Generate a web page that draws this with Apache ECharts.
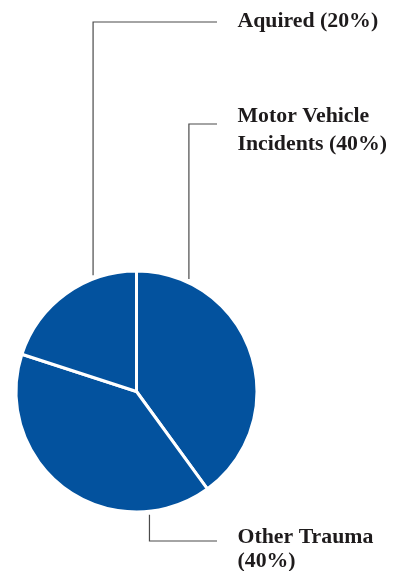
<!DOCTYPE html>
<html>
<head>
<meta charset="utf-8">
<script src="https://cdn.jsdelivr.net/npm/echarts@6/dist/echarts.min.js"></script>
<style>
html,body{margin:0;padding:0;background:#fff;}
#chart{width:397px;height:571px;}
</style>
</head>
<body>
<div id="chart"></div>
<script>
// Data
var categories = ['Motor Vehicle Incidents', 'Other Trauma', 'Aquired'];
var values = [40, 40, 20];
// Displayed label names (with line breaks as in the reference)
var labelNames = ['Motor Vehicle\nIncidents', 'Other Trauma', 'Aquired'];
var labelSeparators = [' ', '\n', ' '];

// Layout (styling, not data)
var CX = 136.5, CY = 391.5, R = 120.5;
var LABEL_X = 237.5;
var leaderAngles = [25, 174, 339.5];      // where each leader leaves the pie (deg clockwise from top)
var leaderRowY = [124, 541, 22];          // height of each horizontal leader segment
var labelCenterY = [130, 549.5, 21.5];    // vertical centre of each label block
var lineHeights = [28, 24, 24];

var chart = echarts.init(document.getElementById('chart'), null, {renderer: 'canvas'});

var total = values.reduce(function (a, b) { return a + b; }, 0);
var data = categories.map(function (c, i) {
  return {
    name: c,
    value: values[i],
    label: { lineHeight: lineHeights[i] }
  };
});

chart.setOption({
  animation: false,
  backgroundColor: '#ffffff',
  series: [{
    type: 'pie',
    center: [CX, CY],
    radius: R,
    startAngle: 90,
    clockwise: true,
    avoidLabelOverlap: false,
    itemStyle: { color: '#03529e', borderColor: '#ffffff', borderWidth: 3 },
    emphasis: { disabled: true },
    label: {
      show: true,
      position: 'outside',
      fontFamily: 'Liberation Serif',
      fontWeight: 'bold',
      fontSize: 21.8,
      color: '#1e1b1c',
      formatter: function (p) {
        var i = p.dataIndex;
        return labelNames[i] + labelSeparators[i] + '(' + Math.round(p.value / total * 100) + '%)';
      }
    },
    labelLine: {
      show: true,
      lineStyle: { color: '#4a4a4a', width: 1.2 }
    },
    labelLayout: function (params) {
      var i = params.dataIndex;
      var a = leaderAngles[i] * Math.PI / 180;
      var r = R + 3.5;
      var sx = CX + r * Math.sin(a);
      var sy = CY - r * Math.cos(a);
      return {
        x: LABEL_X,
        y: labelCenterY[i],
        align: 'left',
        verticalAlign: 'middle',
        labelLinePoints: [[sx, sy], [sx, leaderRowY[i]], [217, leaderRowY[i]]]
      };
    },
    data: data
  }]
});
</script>
</body>
</html>
